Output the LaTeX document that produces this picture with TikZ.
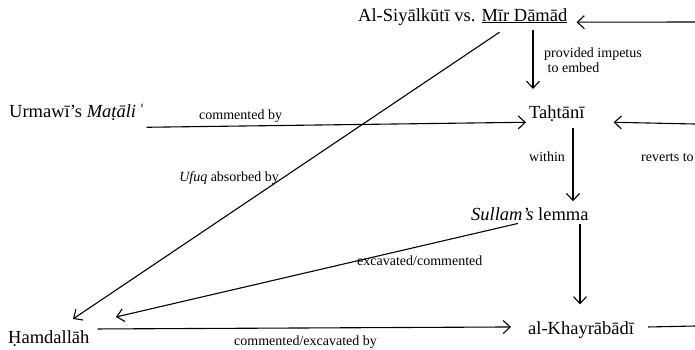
\documentclass[tikz,border=0pt]{standalone}
\usepackage{fontspec}
\setmainfont{Liberation Serif}
\usetikzlibrary{arrows.meta,calc}
\tikzset{
  idea/.style={font=\fontsize{18.5}{20}\selectfont, inner sep=1pt, anchor=base west},
  lbl/.style={font=\fontsize{14}{15}\selectfont, inner sep=1pt, anchor=base west},
  link/.style={line width=1.1pt, -{Straight Barb[length=7pt,width=13pt,line width=1.1pt]}},
}
\begin{document}
\begin{tikzpicture}[x=1pt,y=-1pt]
\useasboundingbox (0,0) rectangle (695,349);

\node[idea] (top) at (357,21) {Al-Siyālkūtī vs. \underline{Mīr Dāmād}};
\node[idea] (urm) at (8,117) {Urmawī’s \textit{Maṭāli}\,ʿ};
\node[idea] (tah) at (528,118) {Taḥtānī};
\node[idea] (sul) at (470,220) {\textit{Sullam’s} lemma};
\node[idea] (kha) at (527,334) {al-Khayrābādī};
\node[idea] (ham) at (7,343) {Ḥamdallāh};

\coordinate (rtop) at (695,22);
\coordinate (rmid) at (695,124);
\coordinate (rbot) at (695,326);

\node[lbl, align=left, anchor=north west] (impetus) at (543,47) {provided impetus\\\ to embed};
\node[lbl] (comby) at (198,119) {commented by};
\node[lbl, anchor=base east] (ufuq) at (280,181) {\textit{Ufuq} absorbed by};
\node[lbl] (within) at (528,161) {within};
\node[lbl] (reverts) at (640,161) {reverts to};
\node[lbl] (exccom) at (356,265) {excavated/commented};
\node[lbl] (comexc) at (233,345) {commented/excavated by};

\draw[link] (rtop) -- ($(top.south east)+(8,-4)$);
\draw[link] ($(tah.north west |- top.south)+(5,4)$) -- ($(tah.north west)+(5,-15)$);
\draw[link] ($(top.south east)+(-69,6)$) -- ($(ham.north west)+(66,-10)$);
\draw[link] ($(urm.south east)+(0,6)$) -- ($(tah.south west)+(-2,0)$);
\draw[link] (rmid) -- ($(tah.south east)+(28,0)$);
\draw[link] ($(tah.south west)+(45,6)$) -- ($(sul.north west |- tah.south)+(103,79)$);
\draw[link] ($(sul.south west)+(48,2)$) -- ($(ham.north west)+(109,-12)$);
\draw[link] ($(sul.south west)+(110,3)$) -- ($(kha.north west |- sul.south)+(53,83)$);
\draw[link] ($(ham.north east)+(7,0)$) -- ($(kha.north west)+(-16,7)$);
\draw[line width=1.1pt] ($(kha.north east)+(13,7)$) -- (rbot);
\end{tikzpicture}
\end{document}
